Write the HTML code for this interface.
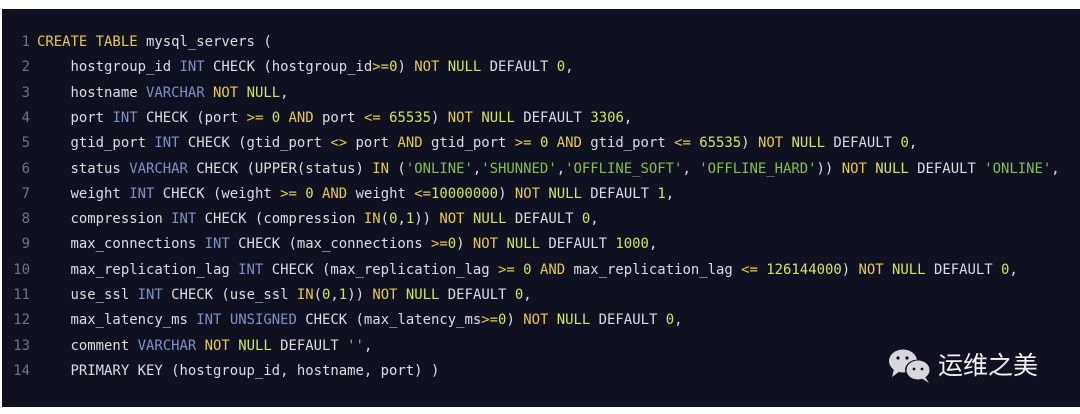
<!DOCTYPE html>
<html><head><meta charset="utf-8"><style>
html,body{margin:0;padding:0;background:#fff;width:1080px;height:414px;overflow:hidden}
.p{position:absolute;left:2px;top:9px;width:1078px;height:398px;background:#0f1120;overflow:hidden}
.l{position:absolute;left:0;width:1078px;height:25px;line-height:25px;font-family:"DejaVu Sans Mono","Liberation Mono",monospace;font-size:13.93px;color:#dcdde0;white-space:pre}
.n{position:absolute;left:0;width:28px;color:#6f7480;text-align:right}
.c{position:absolute;left:35px}
.k{color:#e8c94a}.u{color:#d4e35e}.t{color:#8190c4}.s{color:#86bd4e}
.w{position:absolute;color:#f2f2f2;font-family:"Liberation Sans","Noto Sans CJK SC",sans-serif;font-size:25px;line-height:30px}
</style></head><body>
<div class="p">
<div class="l" style="top:21px"><span class="n">1</span><span class="c"><span class="k">CREATE TABLE</span> mysql_servers (</span></div>
<div class="l" style="top:46.3px"><span class="n">2</span><span class="c">    hostgroup_id <span class="t">INT</span> CHECK (hostgroup_id<span class="k">&gt;=</span><span class="u">0</span>) <span class="k">NOT</span> <span class="u">NULL</span> DEFAULT <span class="u">0</span>,</span></div>
<div class="l" style="top:71.6px"><span class="n">3</span><span class="c">    hostname <span class="t">VARCHAR</span> <span class="k">NOT</span> <span class="u">NULL</span>,</span></div>
<div class="l" style="top:96.9px"><span class="n">4</span><span class="c">    port <span class="t">INT</span> CHECK (port <span class="k">&gt;=</span> <span class="u">0</span> <span class="k">AND</span> port <span class="k">&lt;=</span> <span class="u">65535</span>) <span class="k">NOT</span> <span class="u">NULL</span> DEFAULT <span class="u">3306</span>,</span></div>
<div class="l" style="top:122.2px"><span class="n">5</span><span class="c">    gtid_port <span class="t">INT</span> CHECK (gtid_port <span class="k">&lt;&gt;</span> port <span class="k">AND</span> gtid_port <span class="k">&gt;=</span> <span class="u">0</span> <span class="k">AND</span> gtid_port <span class="k">&lt;=</span> <span class="u">65535</span>) <span class="k">NOT</span> <span class="u">NULL</span> DEFAULT <span class="u">0</span>,</span></div>
<div class="l" style="top:147.5px"><span class="n">6</span><span class="c">    status <span class="t">VARCHAR</span> CHECK (UPPER(status) <span class="k">IN</span> (<span class="s">'ONLINE'</span>,<span class="s">'SHUNNED'</span>,<span class="s">'OFFLINE_SOFT'</span>, <span class="s">'OFFLINE_HARD'</span>)) <span class="k">NOT</span> <span class="u">NULL</span> DEFAULT <span class="s">'ONLINE'</span>,</span></div>
<div class="l" style="top:172.8px"><span class="n">7</span><span class="c">    weight <span class="t">INT</span> CHECK (weight <span class="k">&gt;=</span> <span class="u">0</span> <span class="k">AND</span> weight <span class="k">&lt;=</span><span class="u">10000000</span>) <span class="k">NOT</span> <span class="u">NULL</span> DEFAULT <span class="u">1</span>,</span></div>
<div class="l" style="top:198.1px"><span class="n">8</span><span class="c">    compression <span class="t">INT</span> CHECK (compression <span class="k">IN</span>(<span class="u">0</span>,<span class="u">1</span>)) <span class="k">NOT</span> <span class="u">NULL</span> DEFAULT <span class="u">0</span>,</span></div>
<div class="l" style="top:223.4px"><span class="n">9</span><span class="c">    max_connections <span class="t">INT</span> CHECK (max_connections <span class="k">&gt;=</span><span class="u">0</span>) <span class="k">NOT</span> <span class="u">NULL</span> DEFAULT <span class="u">1000</span>,</span></div>
<div class="l" style="top:248.7px"><span class="n">10</span><span class="c">    max_replication_lag <span class="t">INT</span> CHECK (max_replication_lag <span class="k">&gt;=</span> <span class="u">0</span> <span class="k">AND</span> max_replication_lag <span class="k">&lt;=</span> <span class="u">126144000</span>) <span class="k">NOT</span> <span class="u">NULL</span> DEFAULT <span class="u">0</span>,</span></div>
<div class="l" style="top:274px"><span class="n">11</span><span class="c">    use_ssl <span class="t">INT</span> CHECK (use_ssl <span class="k">IN</span>(<span class="u">0</span>,<span class="u">1</span>)) <span class="k">NOT</span> <span class="u">NULL</span> DEFAULT <span class="u">0</span>,</span></div>
<div class="l" style="top:299.3px"><span class="n">12</span><span class="c">    max_latency_ms <span class="t">INT</span> <span class="t">UNSIGNED</span> CHECK (max_latency_ms<span class="k">&gt;=</span><span class="u">0</span>) <span class="k">NOT</span> <span class="u">NULL</span> DEFAULT <span class="u">0</span>,</span></div>
<div class="l" style="top:324.6px"><span class="n">13</span><span class="c">    comment <span class="t">VARCHAR</span> <span class="k">NOT</span> <span class="u">NULL</span> DEFAULT <span class="s">''</span>,</span></div>
<div class="l" style="top:349.9px"><span class="n">14</span><span class="c">    PRIMARY KEY (hostgroup_id, hostname, port) )</span></div>
</div>
<svg style="position:absolute;left:888px;top:348px" width="50" height="36" viewBox="0 0 50 36">
<ellipse cx="15" cy="13" rx="14" ry="11.5" fill="#d8d8dc"/><path d="M6 21 L4 29 L12 23Z" fill="#d8d8dc"/>
<ellipse cx="30" cy="22" rx="13" ry="10.5" fill="#0f1120"/>
<ellipse cx="30" cy="22" rx="11.5" ry="9.5" fill="#d8d8dc"/><path d="M37 29 L41 35 L33 30Z" fill="#d8d8dc"/>
<circle cx="10" cy="10" r="1.6" fill="#0f1120"/><circle cx="19" cy="10" r="1.6" fill="#0f1120"/>
<circle cx="26" cy="21" r="1.4" fill="#0f1120"/><circle cx="34" cy="21" r="1.4" fill="#0f1120"/>
</svg>
<div class="w" style="left:938px;top:351px">运维之美</div>
</body></html>
